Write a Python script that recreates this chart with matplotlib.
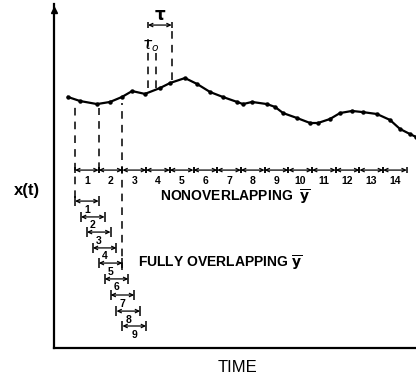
import numpy as np
import matplotlib
matplotlib.use("Agg")
import matplotlib.pyplot as plt

plt.rcParams['font.family'] = ['Liberation Sans', 'DejaVu Sans']
plt.rcParams['mathtext.fontset'] = 'dejavusans'

# x(t) samples (time in units of tau, arbitrary amplitude)
curve_t = [-0.30, 0.21, 0.93, 1.48, 1.98, 2.41, 2.95, 3.59, 4.01, 4.64, 5.15,
           5.70, 6.24, 6.84, 7.09, 7.47, 8.10, 8.44, 8.78, 9.37, 9.92, 10.25,
           10.76, 11.18, 11.69, 12.15, 12.74, 13.29, 13.71, 14.14, 14.39]
curve_x = [10.61, 10.44, 10.31, 10.40, 10.61, 10.86, 10.74, 10.99, 11.20, 11.41,
           11.16, 10.82, 10.61, 10.40, 10.31, 10.40, 10.31, 10.19, 9.93, 9.72,
           9.51, 9.51, 9.68, 9.93, 10.02, 9.97, 9.89, 9.64, 9.26, 9.04, 8.92]

# nonoverlapping intervals
n_intervals = 14
nonover_y = 7.52
nonover_labels = [str(k) for k in range(1, n_intervals + 1)]

# fully overlapping intervals
over_start = [0.0, 0.25, 0.5, 0.75, 1.0, 1.25, 1.5, 1.75, 2.0]
over_y = [6.21, 5.54, 4.90, 4.23, 3.59, 2.92, 2.24, 1.56, 0.93]
over_labels = [str(k) for k in range(1, 10)]

# dashed guide lines from the curve
guide_t = [0, 1, 2]
guide_top = [10.23, 10.14, 10.36]
guide_bot = [6.34, 7.52, 3.30]

# tau / tau_0 markers
tau_t = [3.08, 3.42, 4.08]
tau_top = [13.31, 12.47, 13.57]
tau_bot = [10.99, 10.99, 11.33]
tau_bar_y = 13.65

fig = plt.figure(figsize=(4.16, 3.79), dpi=100)
ax = fig.add_axes([54 / 416, 31 / 379, 362 / 416, 344 / 379])
ax.set_xlim(-0.886, 14.388)
ax.set_ylim(0, 14.54)
for s in ['top', 'right']:
    ax.spines[s].set_visible(False)
for s in ['left', 'bottom']:
    ax.spines[s].set_linewidth(1.6)
ax.set_xticks([])
ax.set_yticks([])
ax.plot([-0.886], [14.3], marker='^', color='k', ms=4, clip_on=False)

ax.plot(curve_t, curve_x, color='k', lw=1.6, marker='o', ms=2.2)

dash = dict(color='k', lw=1.1, linestyles=(0, (5, 4)))
ax.vlines(guide_t, guide_bot, guide_top, **dash)
ax.vlines(tau_t, tau_bot, tau_top, **dash)


def interval(a, b, y, h):
    ax.vlines([a, b], y - h, y + h, color='k', lw=1.1)
    ax.annotate('', xy=(a, y), xytext=(b, y),
                arrowprops=dict(arrowstyle='<->,head_length=0.25,head_width=0.12',
                                color='k', lw=0.9, shrinkA=0, shrinkB=0))


interval(tau_t[0], tau_t[2], tau_bar_y, 0.14)
ax.text((tau_t[0] + tau_t[2]) / 2, tau_bar_y + 0.42, r'$\mathbf{\tau}$',
        ha='center', va='center', fontsize=12)
ax.text(tau_t[0] + 0.12, 12.75, r'$\tau_o$', ha='center', va='center', fontsize=11)

for k in range(n_intervals):
    interval(k, k + 1, nonover_y, 0.14)
    ax.text(k + 0.5, nonover_y - 0.46, nonover_labels[k], ha='center', va='center',
            fontsize=7.5, fontweight='bold')

for s0, yy, lab in zip(over_start, over_y, over_labels):
    interval(s0, s0 + 1, yy, 0.2)
    ax.text(s0 + 0.5, yy - 0.36, lab, ha='center', va='center',
            fontsize=7.5, fontweight='bold')

ax.text(3.59, 6.38, r'NONOVERLAPPING  $\mathbf{\overline{y}}$', ha='left', va='center',
        fontsize=10, fontweight='bold')
ax.text(2.66, 3.59, r'FULLY OVERLAPPING $\mathbf{\overline{y}}$', ha='left', va='center',
        fontsize=10, fontweight='bold')

fig.text(27 / 416, 1 - 191 / 379, 'x(t)', ha='center', va='center',
         fontsize=12, fontweight='bold')
fig.text(237 / 416, 1 - 367 / 379, 'TIME', ha='center', va='center', fontsize=12)

fig.savefig('out.png', dpi=100)
